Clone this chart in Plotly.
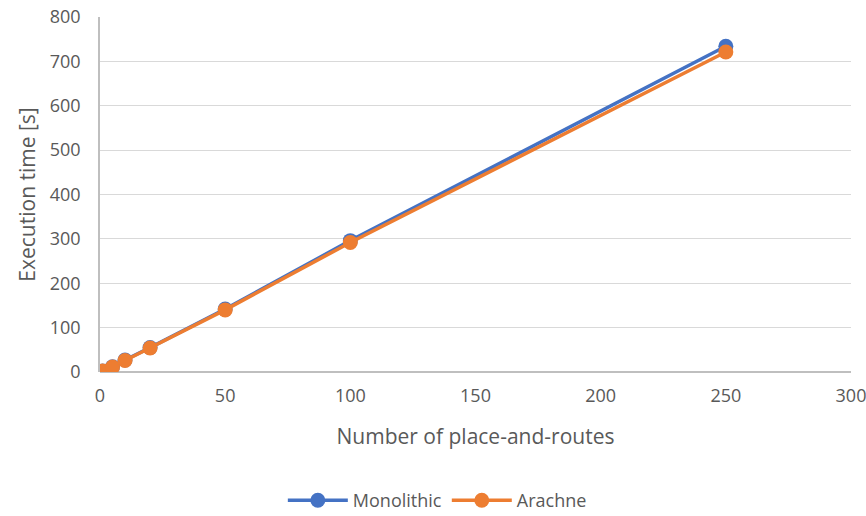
import plotly.graph_objects as go

# Number of place-and-route runs and measured execution times (seconds)
runs = [1, 5, 10, 20, 50, 100, 250]
monolithic = [2, 12, 27, 55, 142, 296, 734]
arachne = [2, 11, 26, 54, 140, 292, 721]

x_ticks = [0, 50, 100, 150, 200, 250, 300]
y_ticks = [0, 100, 200, 300, 400, 500, 600, 700, 800]

BLUE = "#4472C4"
ORANGE = "#ED7D31"
TEXT = "#595959"
FONT = "Open Sans"

fig = go.Figure()
fig.add_trace(go.Scatter(
    x=runs, y=monolithic, name="Monolithic", mode="lines+markers",
    line=dict(color=BLUE, width=3.5), marker=dict(color=BLUE, size=15),
))
fig.add_trace(go.Scatter(
    x=runs, y=arachne, name="Arachne", mode="lines+markers",
    line=dict(color=ORANGE, width=3.5), marker=dict(color=ORANGE, size=15),
))

fig.update_layout(
    width=866, height=516,
    margin=dict(l=100, r=15, t=17, b=144),
    paper_bgcolor="white", plot_bgcolor="white",
    font=dict(family=FONT, color=TEXT, size=18),
    showlegend=True,
    legend=dict(
        orientation="h", xref="container", yref="container",
        x=0.505, xanchor="center", y=0.03, yanchor="middle",
        font=dict(size=18, color=TEXT), itemwidth=60,
    ),
    xaxis=dict(
        range=[0, 300], tickvals=x_ticks, showgrid=False, automargin=False,
        zeroline=False, showline=False, ticks="", ticklabeloverflow="allow",
        tickfont=dict(size=18, color=TEXT), ticklabelstandoff=11,
        title=dict(text="Number of place-and-routes", font=dict(size=21, color=TEXT), standoff=23),
    ),
    yaxis=dict(
        range=[0, 800], tickvals=y_ticks, showgrid=True, gridcolor="#D9D9D9", gridwidth=1,
        automargin=False,
        zeroline=True, zerolinecolor="#BFBFBF", zerolinewidth=1.5,
        showline=True, linecolor="#BFBFBF", linewidth=1.5, ticks="",
        tickfont=dict(size=18, color=TEXT), ticklabelstandoff=14,
        title=dict(text="Execution time [s]", font=dict(size=21, color=TEXT), standoff=8),
    ),
)

fig.write_html("out.html")
